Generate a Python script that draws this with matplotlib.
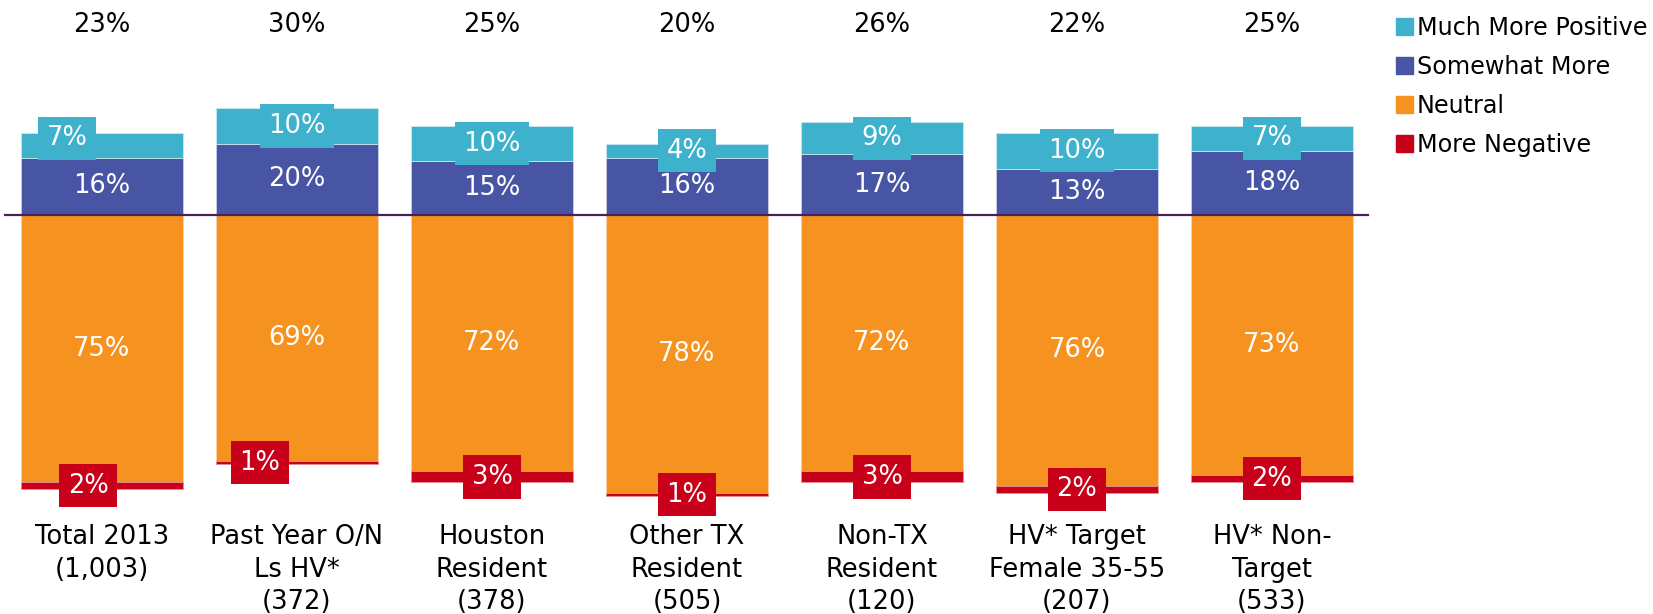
import matplotlib
matplotlib.use("Agg")
import matplotlib.pyplot as plt
import numpy as np
from matplotlib.patches import Patch

categories = ["Total 2013\n(1,003)", "Past Year O/N\nLs HV*\n(372)", "Houston\nResident\n(378)",
              "Other TX\nResident\n(505)", "Non-TX\nResident\n(120)", "HV* Target\nFemale 35-55\n(207)",
              "HV* Non-\nTarget\n(533)"]
much_more = [7, 10, 10, 4, 9, 10, 7]
somewhat = [16, 20, 15, 16, 17, 13, 18]
neutral = [75, 69, 72, 78, 72, 76, 73]
negative = [2, 1, 3, 1, 3, 2, 2]
net_change = [23, 30, 25, 20, 26, 22, 25]

c_much = '#3eb1cc'
c_some = '#4855a5'
c_neut = '#f69320'
c_neg = '#c8001a'

# little nudges for a few data labels (x units / percentage points)
much_dx = [-0.18, 0, 0, 0, 0, 0, 0]
much_dy = [2.0, 0, 0, 0, 0, 0, 0]
neg_dx = [-0.07, -0.19, 0, 0, 0, 0, 0]

fs = 18.5
plt.rcParams['font.family'] = 'DejaVu Sans'

fig = plt.figure(figsize=(16.53, 6.14), dpi=100)
ax = fig.add_axes([0, 0, 1, 1])
ax.set_xlim(-0.523, 7.954)
ax.set_ylim(-112.0, 60.3)
ax.axis('off')

x = np.arange(len(categories))
much_more = np.array(much_more)
somewhat = np.array(somewhat)
neutral = np.array(neutral)
negative = np.array(negative)

w = 0.826
ax.bar(x, somewhat, w, color=c_some, edgecolor='#c9cde6', linewidth=0.6)
ax.bar(x, much_more, w, bottom=somewhat, color=c_much, edgecolor='#c9e8f0', linewidth=0.6)
ax.bar(x, -neutral, w, color=c_neut, edgecolor='#fbd3a6', linewidth=0.6)
ax.bar(x, -negative, w, bottom=-neutral, color=c_neg, edgecolor='#e88c97', linewidth=0.6)

ax.plot([-0.497, 6.49], [0, 0], color='#4a1f5c', lw=1.6, zorder=5)

def box(color):
    return dict(boxstyle='square,pad=0.34', facecolor=color, edgecolor='none')

for i in range(len(x)):
    ax.text(x[i], somewhat[i] / 2, f"{somewhat[i]}%", ha='center', va='center',
            color='white', fontsize=fs)
    ax.text(x[i] + much_dx[i], somewhat[i] + much_more[i] / 2 + much_dy[i], f"{much_more[i]}%",
            ha='center', va='center', color='white', fontsize=fs, bbox=box(c_much), zorder=6)
    ax.text(x[i], -neutral[i] / 2, f"{neutral[i]}%", ha='center', va='center',
            color='white', fontsize=fs)
    ax.text(x[i] + neg_dx[i], -neutral[i] - negative[i] / 2, f"{negative[i]}%",
            ha='center', va='center', color='white', fontsize=fs, bbox=box(c_neg), zorder=6)
    ax.text(x[i], 53.2, f"{net_change[i]}%", ha='center', va='center', color='black', fontsize=fs)
    ax.text(x[i], -86.8, categories[i], ha='center', va='top', color='black',
            fontsize=fs, linespacing=1.33)

handles = [Patch(color=c_much), Patch(color=c_some), Patch(color=c_neut), Patch(color=c_neg)]
labels = ["Much More Positive", "Somewhat More", "Neutral", "More Negative"]
fig.legend(handles, labels, loc='upper left', bbox_to_anchor=(1382 / 1653, 0.998),
           frameon=False, fontsize=17.2, handlelength=0.7, handleheight=0.7,
           handletextpad=0.15, labelspacing=0.63, borderaxespad=0.2)

fig.savefig("out.png", dpi=100)
